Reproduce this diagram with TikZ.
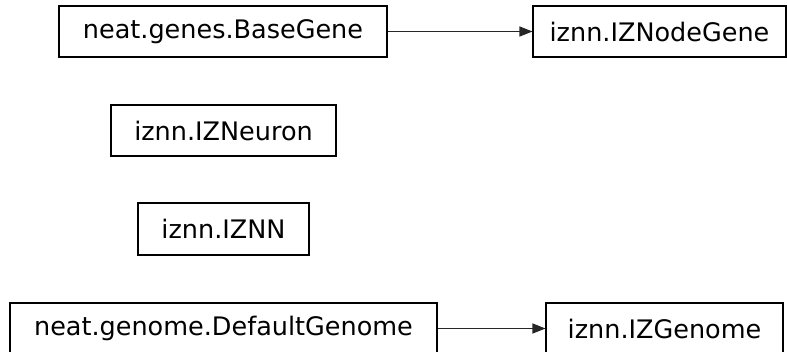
\documentclass[tikz,border=0pt]{standalone}
\usepackage{fontspec}
\setmainfont{DejaVu Sans}
\usetikzlibrary{arrows.meta}
\begin{document}
\begin{tikzpicture}[x=1pt,y=-1pt,
  cls/.style={draw=black, line width=1.1pt, rectangle, inner sep=0pt,
    font=\fontsize{25.5}{30}\selectfont, anchor=center},
  link/.style={draw=black!85, line width=1.4pt,
    -{Triangle[length=13pt,width=10pt]}}]
\useasboundingbox (0,0) rectangle (787,352);
\node[cls, minimum width=328pt, minimum height=51pt] (base) at (223,31.5) {neat.genes.BaseGene};
\node[cls, minimum width=253pt, minimum height=51pt] (nodegene) at (659.5,31.5) {iznn.IZNodeGene};
\node[cls, minimum width=225pt, minimum height=51pt] (neuron) at (223.5,130.5) {iznn.IZNeuron};
\node[cls, minimum width=171pt, minimum height=52pt] (iznn) at (223.5,229) {iznn.IZNN};
\node[cls, minimum width=427pt, minimum height=51pt] (dgenome) at (223.5,328.5) {neat.genome.DefaultGenome};
\node[cls, minimum width=237pt, minimum height=51pt] (izgenome) at (664.5,328.5) {iznn.IZGenome};
\draw[link] (base) -- (nodegene);
\draw[link] (dgenome) -- (izgenome);
\end{tikzpicture}
\end{document}
